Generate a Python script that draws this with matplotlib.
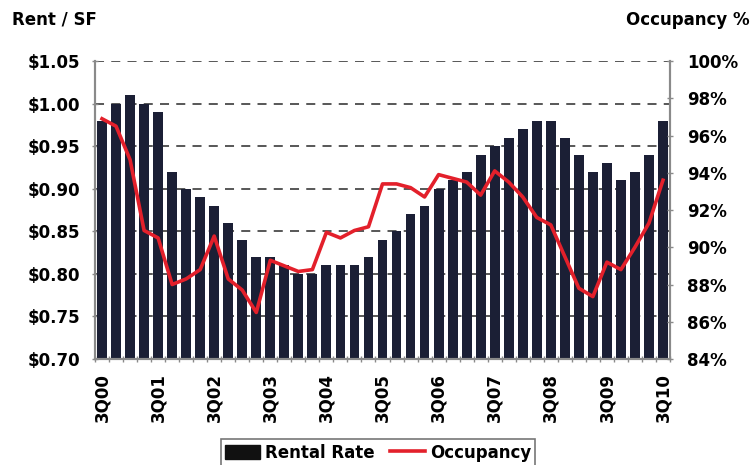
import matplotlib
matplotlib.use("Agg")
import matplotlib.pyplot as plt
from matplotlib.patches import Patch
from matplotlib.lines import Line2D
import numpy as np

plt.rcParams['font.family'] = ['DejaVu Sans']
plt.rcParams['font.weight'] = 'bold'

# Quarterly series, 3Q00 through 3Q10
quarters = [f"{q}Q{y:02d}" for y, q in
            [(0, 3), (0, 4)] + [(y, q) for y in range(1, 10) for q in range(1, 5)]
            + [(10, 1), (10, 2), (10, 3)]]

rental_rate = [0.98, 1.00, 1.01, 1.00, 0.99, 0.92, 0.90, 0.89, 0.88, 0.86,
               0.84, 0.82, 0.82, 0.81, 0.80, 0.80, 0.81, 0.81, 0.81, 0.82,
               0.84, 0.85, 0.87, 0.88, 0.90, 0.91, 0.92, 0.94, 0.95, 0.96,
               0.97, 0.98, 0.98, 0.96, 0.94, 0.92, 0.93, 0.91, 0.92, 0.94,
               0.98]

occupancy = [96.9, 96.5, 94.7, 90.9, 90.5, 88.0, 88.3, 88.8, 90.6, 88.3,
             87.7, 86.5, 89.3, 89.0, 88.7, 88.8, 90.8, 90.5, 90.9, 91.1,
             93.4, 93.4, 93.2, 92.7, 93.9, 93.7, 93.5, 92.8, 94.1, 93.5,
             92.7, 91.6, 91.2, 89.5, 87.8, 87.35, 89.2, 88.8, 90.0, 91.3,
             93.6]

left_ticks = [0.70, 0.75, 0.80, 0.85, 0.90, 0.95, 1.00, 1.05]
right_ticks = [84, 86, 88, 90, 92, 94, 96, 98, 100]

bar_color = '#1b1f35'
line_color = '#e3202b'
axis_color = '#8a8a8a'

fig = plt.figure(figsize=(7.56, 4.65), dpi=100)
ax1 = fig.add_axes([95 / 756, 1 - 359 / 465, 575 / 756, 298 / 465])
ax2 = ax1.twinx()

x = np.arange(len(quarters))
ax1.bar(x, rental_rate, width=0.7, color=bar_color, zorder=2)
ax1.set_xlim(-0.5, len(quarters) - 0.5)
ax1.set_ylim(0.70, 1.05)
ax1.set_yticks(left_ticks)
ax1.set_yticklabels([f"${v:.2f}" for v in left_ticks], fontsize=12, fontweight='bold')
ax1.set_axisbelow(True)
ax1.yaxis.grid(True, linestyle=(0, (5, 4)), color='#4a4a4a', linewidth=1.3, zorder=0)

ax2.plot(x, occupancy, color=line_color, linewidth=2.6, zorder=3)
ax2.set_ylim(84, 100)
ax2.set_yticks(right_ticks)
ax2.set_yticklabels([f"{v}%" for v in right_ticks], fontsize=12, fontweight='bold')

# Category labels on every fourth quarter, ticks between categories
label_idx = list(range(0, len(quarters), 4))
ax1.set_xticks(label_idx)
ax1.set_xticklabels([quarters[i] for i in label_idx], rotation=90,
                    fontsize=12, fontweight='bold')
ax1.tick_params(axis='x', which='major', length=0, pad=10)
ax1.set_xticks(np.arange(-0.5, len(quarters), 1), minor=True)
ax1.tick_params(axis='x', which='minor', length=5, direction='inout',
                color=axis_color, width=1)

ax1.tick_params(axis='y', length=5, direction='inout', color=axis_color,
                pad=8, width=1)
ax2.tick_params(axis='y', length=5, direction='inout', color=axis_color,
                pad=10, width=1)

for ax in (ax1, ax2):
    ax.spines['top'].set_visible(False)
    for side in ('left', 'right', 'bottom'):
        ax.spines[side].set_color(axis_color)
        ax.spines[side].set_linewidth(1.5)

fig.text(12 / 756, 1 - 20 / 465, "Rent / SF", fontsize=12, fontweight='bold',
         ha='left', va='center')
fig.text(750 / 756, 1 - 20 / 465, "Occupancy %", fontsize=12, fontweight='bold',
         ha='right', va='center')

handles = [Patch(facecolor='#111111', edgecolor='#111111'),
           Line2D([0], [0], color=line_color, linewidth=2.6)]
leg = fig.legend(handles, ["Rental Rate", "Occupancy"], loc='upper center',
                 bbox_to_anchor=(0.5, 1 - 431 / 465), ncol=2, frameon=True,
                 fancybox=False, edgecolor='#555555', fontsize=12,
                 handlelength=2.1, handleheight=0.9, handletextpad=0.3,
                 columnspacing=0.9, borderpad=0.25)
leg.get_frame().set_linewidth(1.2)
for t in leg.get_texts():
    t.set_fontweight('bold')

fig.savefig("out.png", dpi=100)
